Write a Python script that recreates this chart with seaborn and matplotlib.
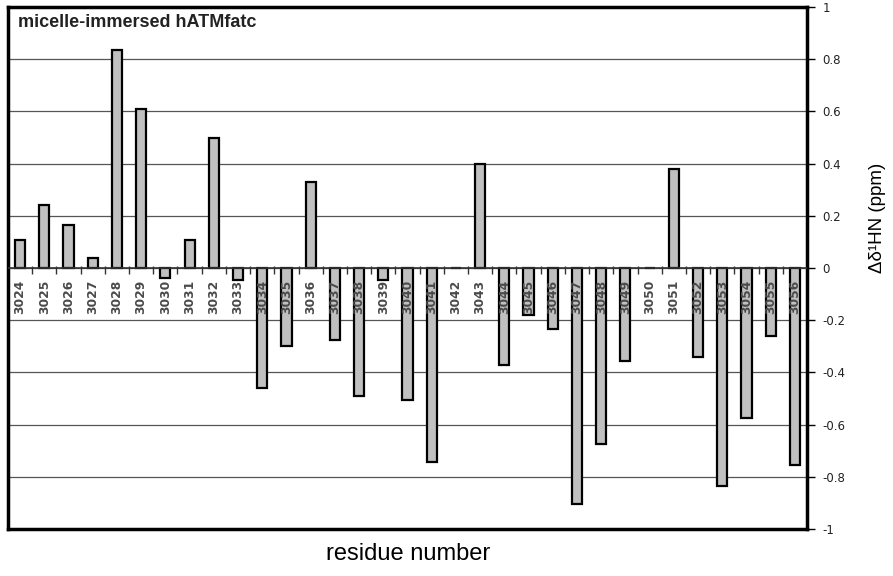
import numpy as np
import pandas as pd
import matplotlib
matplotlib.use("Agg")
import matplotlib.pyplot as plt
import seaborn as sns

# Residues of hATM FATC and their amide proton chemical shift changes (ppm)
residues = list(range(3024, 3057))
shifts = [0.107, 0.24, 0.165, 0.04, 0.835, 0.61, -0.04, 0.107, 0.50,
          -0.045, -0.46, -0.30, 0.33, -0.275, -0.49, -0.045, -0.505, -0.745,
          0.0, 0.40, -0.37, -0.18, -0.235, -0.905, -0.675, -0.355, 0.0,
          0.38, -0.34, -0.835, -0.575, -0.26, -0.755]
ytick_values = [-1, -0.8, -0.6, -0.4, -0.2, 0, 0.2, 0.4, 0.6, 0.8, 1]

title = "micelle-immersed hATMfatc"
xlabel = "residue number"
ylabel = "Δδ¹HN (ppm)"

df = pd.DataFrame({"residue": [str(r) for r in residues], "shift": shifts})

sns.set_style("white")
plt.rcParams["font.family"] = ["DejaVu Sans"]

fig = plt.figure(figsize=(8.93, 5.76), dpi=100)
ax = fig.add_axes([8 / 893, 1 - 529 / 576, (807 - 8) / 893, (529 - 7) / 576])

sns.barplot(data=df, x="residue", y="shift", color="#c0c0c0", saturation=1,
            edgecolor="black", linewidth=1.6, width=0.42, ax=ax, zorder=3)

ax.set_xlim(-0.5, len(residues) - 0.5)
ax.set_ylim(-1, 1)

# horizontal gridlines and zero line
ax.set_axisbelow(True)
for v in ytick_values:
    ax.axhline(v, color="#555555", linewidth=0.9, zorder=1)
ax.axhline(0, color="#333333", linewidth=1.2, zorder=4)

# small ticks between residues along the zero line
bounds = np.arange(0.5, len(residues) - 1, 1.0)
ax.vlines(bounds, -0.022, 0.008, color="#333333", linewidth=1.0, zorder=2)

# residue labels written just below the zero line
for i, r in enumerate(residues):
    ax.text(i, -0.045, str(r), rotation=90, ha="center", va="top",
            fontsize=8.8, fontweight="bold", color="#4a4a4a", zorder=5)

ax.set_xticks([])
ax.set_xlabel("")
ax.set_ylabel("")

ax.yaxis.tick_right()
ax.set_yticks(ytick_values)
ax.set_yticklabels([f"{v:g}" for v in ytick_values], fontsize=8.5, color="#222222")
ax.tick_params(axis="y", which="major", length=6, width=1.0, color="black",
               pad=5, right=True, left=False)

for s in ax.spines.values():
    s.set_visible(True)
    s.set_color("black")
    s.set_linewidth(2.5)

ax.text(0.012, 0.987, title, transform=ax.transAxes, ha="left", va="top",
        fontsize=13, fontweight="bold", color="#222222",
        family=["Liberation Sans", "DejaVu Sans"])

fig.text(408 / 893, 1 - 554 / 576, xlabel, ha="center", va="center",
         fontsize=17, color="black",
         family=["Liberation Sans", "DejaVu Sans"])
fig.text(877 / 893, 1 - 218 / 576, ylabel, ha="center", va="center",
         rotation=90, fontsize=13.5, color="black",
         family=["Liberation Sans", "DejaVu Sans"])

fig.savefig("out.png", dpi=100)
